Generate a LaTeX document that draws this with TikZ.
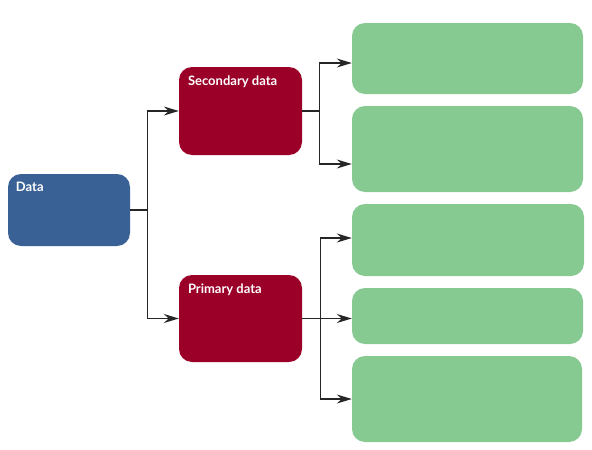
\documentclass[tikz,border=0pt]{standalone}
\usepackage{fontspec}
\setmainfont{Lato}
\usetikzlibrary{arrows.meta}
\definecolor{datablue}{HTML}{3A6195}
\definecolor{datared}{HTML}{9B0029}
\definecolor{datagreen}{HTML}{86C991}
\tikzset{
  box/.style={rounded corners=13pt, inner sep=0pt, draw=none},
  boxlabel/.style={anchor=north west, inner sep=0pt, text=white, font=\bfseries\fontsize{13}{15}\selectfont},
  link/.style={line width=1.3pt, black!85},
  tip/.style={-{Stealth[length=15pt,width=9pt,inset=5pt]}}
}
\begin{document}
\begin{tikzpicture}[x=1pt, y=-1pt]
        \useasboundingbox (0, 0) rectangle (592, 450);
        \node [box, fill=datablue, minimum width=122pt, minimum height=72pt] (data) at (69, 210) {};
        \node [box, fill=datared, minimum width=123pt, minimum height=88pt] (secondary) at (240.5, 111) {};
        \node [box, fill=datared, minimum width=123pt, minimum height=87pt] (primary) at (240.5, 318.5) {};
        \node [box, fill=datagreen, minimum width=231pt, minimum height=71pt] (sone) at (467.5, 58.5) {};
        \node [box, fill=datagreen, minimum width=231pt, minimum height=86pt] (stwo) at (467.5, 149) {};
        \node [box, fill=datagreen, minimum width=232pt, minimum height=72pt] (pone) at (468, 240) {};
        \node [box, fill=datagreen, minimum width=231pt, minimum height=56pt] (ptwo) at (467.5, 316) {};
        \node [box, fill=datagreen, minimum width=230pt, minimum height=86pt] (pthree) at (467, 399) {};
        \node [boxlabel] (datatext) at ([xshift=8pt, yshift=-8.5pt] data.north west) {Data};
        \node [boxlabel] (secondarytext) at ([xshift=9pt, yshift=-9pt] secondary.north west) {Secondary data};
        \node [boxlabel] (primarytext) at ([xshift=9pt, yshift=-8.5pt] primary.north west) {Primary data};
        \draw [link, tip] (data.east) -- ++(17, 0) |- (secondary.west);
        \draw [link, tip] (data.east) -- ++(17, 0) |- (primary.west);
        \draw [link, tip] (secondary.east) -- ++(17, 0) |- ([yshift=-4.5pt] sone.west);
        \draw [link, tip] (secondary.east) -- ++(17, 0) |- ([yshift=-15pt] stwo.west);
        \draw [link, tip] (primary.east) -- ++(18, 0) |- ([yshift=2pt] pone.west);
        \draw [link, tip] (primary.east) -- ++(18, 0) |- ([yshift=-2.5pt] ptwo.west);
        \draw [link, tip] (primary.east) -- ++(18, 0) |- (pthree.west);
      \end{tikzpicture}
\end{document}
